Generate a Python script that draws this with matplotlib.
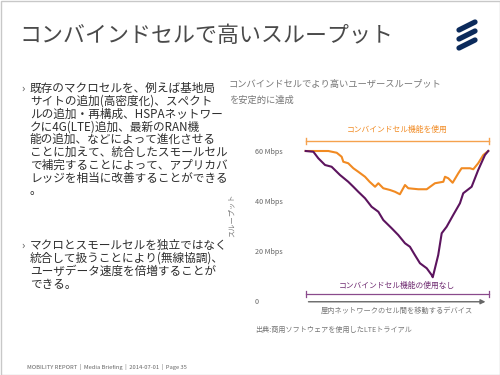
import matplotlib.pyplot as plt

plt.rcParams['font.family'] = ['Noto Sans CJK JP', 'DejaVu Sans']

# position along the walk (0-100) and throughput in Mbps
pos_on = [0, 12.4, 17.0, 19.7, 20.6, 23.3, 26.1, 28.8, 32.5, 35.0, 38.0, 39.8,
          42.5, 46.2, 48.9, 51.6, 54.4, 56.2, 61.7, 66.3, 70.8, 75.4, 76.3,
          78.1, 80.5, 83.6, 85.4, 90.0, 91.8, 94.5, 97.3, 100]
tput_on = [60, 60, 59.3, 57.7, 55.7, 55.1, 53.1, 51.7, 49.7, 47.7, 45.7, 47.1,
           45.1, 44.4, 43.7, 42.7, 46.4, 45.1, 44.7, 44.7, 47.1, 47.7, 49.7,
           49.1, 47.3, 51.1, 53.1, 53.1, 52.7, 55.1, 58.4, 60]

pos_off = [0, 4.2, 6.9, 10.6, 14.2, 18.8, 23.3, 26.1, 28.8, 32.5, 36.1, 39.8,
           42.5, 47.1, 50.7, 54.4, 57.1, 59.8, 62.6, 66.3, 69.0, 69.6, 72.6,
           74.5, 77.2, 80.8, 84.5, 86.3, 90.9, 94.5, 98.2, 100]
tput_off = [60, 59.7, 57.1, 54.4, 53.7, 50.4, 47.7, 45.7, 43.7, 41.1, 37.7, 35.7,
            32.4, 29.1, 26.4, 23.1, 21.7, 18.4, 15.1, 13.1, 10.4, 9.5, 18.4,
            27.1, 29.7, 34.4, 39.1, 43.1, 45.7, 52.4, 58.4, 60]

yticks = [0, 20, 40, 60]
ytick_labels = ['0', '20 Mbps', '40 Mbps', '60 Mbps']

title = 'コンバインドセルで高いスループット'
bullet1 = ['既存のマクロセルを、例えば基地局',
           'サイトの追加(高密度化)、スペクト',
           'ルの追加・再構成、HSPAネットワー',
           'クに4G(LTE)追加、最新のRAN機',
           '能の追加、などによって進化させる',
           'ことに加えて、統合したスモールセル',
           'で補完することによって、アプリカバ',
           'レッジを相当に改善することができる',
           '。']
bullet2 = ['マクロとスモールセルを独立ではなく',
           '統合して扱うことにより(無線協調)、',
           'ユーザデータ速度を倍増することが',
           'できる。']
footer = 'MOBILITY REPORT  |  Media Briefing  |  2014-07-01  |  Page 35'

orange = '#f18a22'
purple = '#5c145e'

fig = plt.figure(figsize=(5, 3.75), dpi=100)

# slide background in pixel coords
bg = fig.add_axes([0, 0, 1, 1])
bg.set_xlim(0, 500)
bg.set_ylim(375, 0)
bg.axis('off')
bg.add_patch(plt.Rectangle((0.5, 0.5), 499, 374, fill=False, ec='#c8c8c8', lw=1))
for y0 in [30, 39, 48]:
    bg.plot([459, 475], [y0, y0 - 8], color='#0b2a5b', lw=3.8, solid_capstyle='round')

bg.text(19, 36, title, fontsize=15.8, color='#4a4a4a', va='center')

for i, line in enumerate(bullet1):
    bg.text(30, 88.5 + i * 12.8, line, fontsize=8.4, color='#2e2e2e', va='center')
bg.text(21, 89, '›', fontsize=8, color='#555555', va='center')
for i, line in enumerate(bullet2):
    bg.text(30, 245 + i * 13.2, line, fontsize=8.4, color='#2e2e2e', va='center')
bg.text(21, 245.5, '›', fontsize=8, color='#555555', va='center')

bg.text(27, 366.5, footer, fontsize=4.2, color='#666666', va='center')

bg.text(229, 85, 'コンバインドセルでより高いユーザースループット', fontsize=6.7,
        color='#777777', va='center')
bg.text(229, 100, 'を安定的に達成', fontsize=6.7, color='#777777', va='center')
bg.text(232, 215, 'スループット', fontsize=5.2, color='#777777', rotation=90,
        ha='center', va='center')
bg.text(255, 330, '出典:商用ソフトウェアを使用したLTEトライアル', fontsize=5.1,
        color='#777777', va='center')

# chart
ax = fig.add_axes([0.6, 0.1733, 0.39, 0.5067])
ax.set_xlim(-3.12, 103.7)
ax.set_ylim(-3.6, 72.4)
for s in ax.spines.values():
    s.set_visible(False)
ax.set_xticks([])
ax.set_yticks(yticks)
ax.set_yticklabels(ytick_labels, ha='left', fontsize=5.2, color='#666666')
ax.tick_params(axis='y', length=0, pad=32.4)
ax.patch.set_alpha(0)

ax.plot(pos_on, tput_on, color=orange, lw=1.5)
ax.plot(pos_off, tput_off, color=purple, lw=1.5)

# brackets
ax.plot([0, 100.5], [64, 64], color='#f5a24e', lw=1)
ax.plot([0, 0], [62.8, 65.2], color='#f5a24e', lw=1)
ax.plot([100.5, 100.5], [62.8, 65.2], color='#f5a24e', lw=1)
ax.text(50, 68.4, 'コンバインドセル機能を使用', fontsize=5.6, color=orange,
        ha='center', va='center')

ax.plot([0, 100.5], [2.8, 2.8], color='#8a4a8c', lw=0.9)
ax.plot([0, 0], [1.6, 4.0], color='#8a4a8c', lw=0.9)
ax.plot([100.5, 100.5], [1.6, 4.0], color='#8a4a8c', lw=0.9)
ax.text(50, 6.1, 'コンバインドセル機能の使用なし', fontsize=5.6, color='#6e2a70',
        ha='center', va='center')

ax.annotate('', xy=(100, -0.3), xytext=(0, -0.3),
            arrowprops=dict(arrowstyle='-|>', color='#666666', lw=1,
                            mutation_scale=7))
ax.text(50, -4, '屋内ネットワークのセル間を移動するデバイス', fontsize=5.2,
        color='#777777', ha='center', va='center', clip_on=False)

fig.savefig('out.png', dpi=100)
